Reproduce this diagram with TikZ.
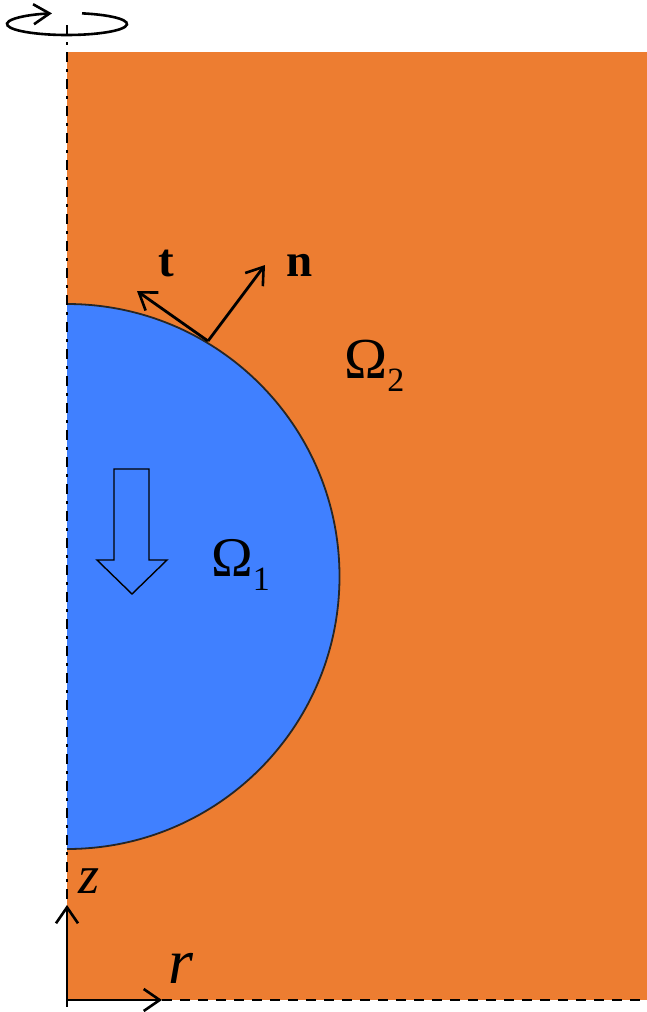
\documentclass[tikz,border=0pt]{standalone}
\usepackage{fontspec}
\setmainfont{Liberation Serif}
\usetikzlibrary{arrows.meta}
\definecolor{orng}{RGB}{237,125,49}
\definecolor{blu}{RGB}{64,128,255}
\tikzset{
  barb/.style={-{Straight Barb[length=16pt,width=22pt,line width=2.6pt]}, line width=2.8pt},
  axisline/.style={line width=2.4pt, dash pattern=on 10pt off 7pt on 3pt off 7pt},
  lbl/.style={inner sep=0pt, anchor=base west},
}
\begin{document}
\begin{tikzpicture}[x=1pt,y=-1pt]
\useasboundingbox (0,0) rectangle (647,1012);
% domain
\fill[orng] (67,52) rectangle (647,1000);
\fill[blu] (67,304) arc[start angle=-90,end angle=90,radius=272.5] -- cycle;
\draw[line width=1.8pt, black!85] (67,304) arc[start angle=-90,end angle=90,radius=272.5];
% hollow arrow
\draw[line width=1.4pt] (114,469) -- (149,469) -- (149,560) -- (167,560) -- (132,594) -- (97,560) -- (114,560) -- cycle;
% symmetry axis
\draw[axisline] (67,25) -- (67,1012);
% bottom boundary
\coordinate (O) at (67,1000);
\coordinate (Ztip) at (67,905);
\coordinate (Rtip) at (162,1000);
\coordinate (BR) at (647,1000);
\draw[line width=2.4pt, dash pattern=on 10pt off 8pt] (Rtip) -- (BR);
\draw[barb] (O) -- (Ztip);
\draw[barb] (O) -- (Rtip);
% rotation symbol
\draw[line width=2.6pt, -{Straight Barb[length=16pt,width=20pt,line width=2.6pt]}]
  (67,24) ++(-75.5:60 and 11) arc[start angle=-75.5,end angle=255.5,x radius=60,y radius=11];
% normal and tangent
\coordinate (P) at (208,341);
\coordinate (Tt) at (137,291);
\coordinate (Nt) at (265,265);
\draw[barb] (P) -- (Tt);
\draw[barb] (P) -- (Nt);
% labels
\node[lbl] (t) at (158,276) {\fontsize{47}{47}\selectfont\bfseries t};
\node[lbl] (n) at (286,276) {\fontsize{47}{47}\selectfont\bfseries n};
\node[lbl] (om1) at (211,576) {\fontsize{56}{56}\selectfont Ω\raisebox{-14pt}{\fontsize{34}{34}\selectfont 1}};
\node[lbl] (om2) at (344,378) {\fontsize{58}{58}\selectfont Ω\raisebox{-13pt}{\fontsize{34}{34}\selectfont 2}};
\node[lbl] (z) at (78,893) {\fontsize{54}{54}\selectfont\itshape z};
\node[lbl] (r) at (168,983) {\fontsize{64}{64}\selectfont\itshape r};
\end{tikzpicture}
\end{document}
